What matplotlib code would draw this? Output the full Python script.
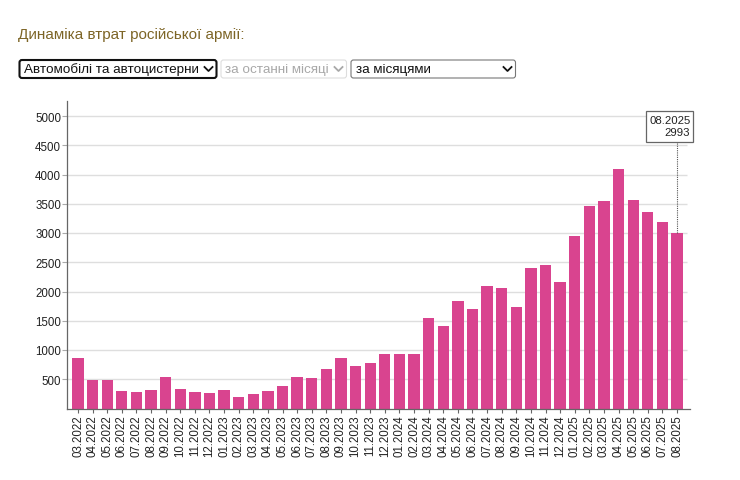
import matplotlib
matplotlib.use("Agg")
import matplotlib.pyplot as plt
from matplotlib.patches import FancyBboxPatch, Rectangle

months = ["03.2022","04.2022","05.2022","06.2022","07.2022","08.2022","09.2022","10.2022","11.2022","12.2022",
          "01.2023","02.2023","03.2023","04.2023","05.2023","06.2023","07.2023","08.2023","09.2023","10.2023","11.2023","12.2023",
          "01.2024","02.2024","03.2024","04.2024","05.2024","06.2024","07.2024","08.2024","09.2024","10.2024","11.2024","12.2024",
          "01.2025","02.2025","03.2025","04.2025","05.2025","06.2025","07.2025","08.2025"]
values = [858,495,495,305,285,320,540,340,290,270,
          320,190,255,305,390,540,520,675,858,725,784,932,
          932,932,1545,1409,1830,1693,2091,2057,1727,2409,2455,2159,
          2949,3460,3540,4090,3560,3363,3194,2993]
yticks = [500,1000,1500,2000,2500,3000,3500,4000,4500,5000]
title = "Динаміка втрат російської армії:"
select_labels = ["Автомобілі та автоцистерни", "за останні місяці", "за місяцями"]

W, H = 740, 481
plt.rcParams['font.family'] = ['Liberation Sans', 'DejaVu Sans']
fig = plt.figure(figsize=(W/100, H/100), dpi=100, facecolor='white')

L, R, T, B = 67, 690, 102, 409.5
ax = fig.add_axes([L/W, 1-B/H, (R-L)/W, (B-T)/H])
step = 14.61
xlo, xhi = (L-78)/step, (R-78)/step
ymax = (B-T)/(29.25/500)
ax.set_xlim(xlo, xhi)
ax.set_ylim(0, ymax)
ax.hlines(yticks, xlo, (687-78)/step, color='#dedede', lw=1, zorder=1)
ax.bar(range(len(values)), values, width=0.775, color='#d9448f', lw=0, zorder=2)
for s in ('top','right'):
    ax.spines[s].set_visible(False)
for s in ('left','bottom'):
    ax.spines[s].set_color('#666666')
    ax.spines[s].set_linewidth(0.9)
ax.set_yticks(yticks)
ax.set_xticks(range(len(months)))
ax.set_xticklabels(months, rotation=90, fontsize=8.3, color='#222222')
ax.tick_params(axis='y', length=3.6, width=0.8, color='#aaaaaa', labelsize=8.3, labelcolor='#222222', pad=0.6)
ax.tick_params(axis='x', length=3.0, width=0.8, color='#666666', pad=1.2)

# overlay in pixel coordinates
ov = fig.add_axes([0, 0, 1, 1], facecolor='none')
ov.set_xlim(0, W); ov.set_ylim(H, 0); ov.axis('off')
ov.text(18, 34.5, title, fontsize=11, color='#7d6526', va='center')

def select(x0, x1, tx, label, edge, lw, color, arrow_color):
    ov.add_patch(FancyBboxPatch((x0, 61), x1-x0, 18, boxstyle="round,pad=0,rounding_size=2.5",
                                mutation_scale=1, fc='white', ec=edge, lw=lw))
    ov.text(tx, 70, label, fontsize=9.7, color=color, va='center')
    xc = x1-8
    ov.plot([xc-4, xc, xc+4], [68, 72, 68], color=arrow_color, lw=1.3)

select(19.5, 216.5, 24, select_labels[0], '#111111', 1.5, '#111111', '#111111')
select(221, 346.5, 225, select_labels[1], '#dddddd', 0.8, '#a8a8a8', '#a8a8a8')
select(351, 515.5, 356, select_labels[2], '#777777', 0.8, '#111111', '#111111')

# tooltip
last = len(values)-1
ax.plot([last, last], [values[last], 4571], color='#555555', lw=0.8, ls=(0, (1, 1)), zorder=3)
ov.add_patch(Rectangle((646, 112), 47, 31, fc='white', ec='#666666', lw=0.9, zorder=5))
ov.text(649, 121, months[last], fontsize=8.2, ha='left', va='center', color='#222222', zorder=6)
ov.text(689.5, 133.5, str(values[last]), fontsize=8.2, ha='right', va='center', color='#222222', zorder=6)

fig.savefig("out.png", dpi=100)
